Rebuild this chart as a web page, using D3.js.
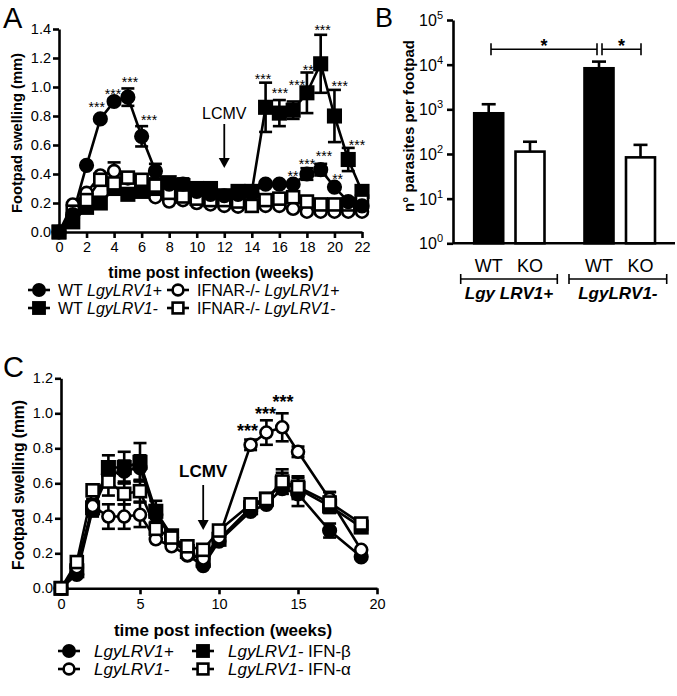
<!DOCTYPE html>
<html><head><meta charset="utf-8">
<script src="https://cdn.jsdelivr.net/npm/d3@7"></script>
<style>body{margin:0;background:#fff} svg{font-family:"Liberation Sans",Arial,Helvetica,sans-serif}</style>
</head><body><svg id="c" width="677" height="696"></svg>
<script>
// ---------- Panel A data ----------
const A_weeks  = [0,1,2,3,4,5,6,7,8,9,10,11,12,13,14,15,16,17,18,19,20,21,22];
const A_wtPos  = [0,0.12,0.46,0.78,0.90,0.93,0.66,0.42,0.33,0.33,0.28,0.26,0.25,0.26,0.27,0.33,0.33,0.33,0.40,0.43,0.31,0.21,0.18];
const A_wtPosE = [0,0,0,0,0.02,0.06,0.07,0.05,0,0.04,0,0,0,0,0,0,0,0,0.04,0.04,0,0,0];
const A_wtNeg  = [0,0.07,0.17,0.20,0.30,0.26,0.28,0.30,0.34,0.32,0.30,0.30,0.25,0.28,0.28,0.86,0.82,0.84,0.96,1.16,0.80,0.50,0.28];
const A_wtNegE = [0,0,0,0,0,0,0,0,0,0,0,0,0,0,0,0.17,0.09,0.06,0.14,0.20,0.18,0.08,0.04];
const A_koPos  = [0,0.19,0.27,0.39,0.42,0.37,0.31,0.24,0.21,0.22,0.20,0.19,0.18,0.175,0.19,0.18,0.18,0.16,0.14,0.14,0.14,0.14,0.14];
const A_koPosE = [0,0,0,0,0.06,0,0,0,0,0,0,0,0,0,0,0,0,0,0,0,0,0,0];
const A_koNeg  = [0,0.14,0.22,0.36,0.335,0.375,0.36,0.32,0.27,0.245,0.23,0.22,0.22,0.21,0.18,0.22,0.23,0.24,0.21,0.19,0.19,0.19,0.21];
const A_koNegE = [0,0,0,0,0,0,0,0,0,0,0,0,0,0,0,0,0,0,0,0,0,0,0];
const A_yTicks = [0,0.2,0.4,0.6,0.8,1.0,1.2,1.4];
const A_xTicks = [0,2,4,6,8,10,12,14,16,18,20,22];
const A_stars  = [
  {w:2.74,v:0.883,t:"***"},{w:3.92,v:0.974,t:"***"},{w:5.155,v:1.053,t:"***"},{w:6.54,v:0.795,t:"***"},
  {w:14.81,v:1.076,t:"***"},{w:16.05,v:0.979,t:"***"},{w:17.28,v:1.037,t:"***"},{w:18.30,v:1.14,t:"***"},
  {w:19.14,v:1.412,t:"***"},{w:20.38,v:1.028,t:"***"},{w:21.64,v:0.623,t:"***"},
  {w:16.99,v:0.405,t:"**"},{w:18.01,v:0.492,t:"***"},{w:19.24,v:0.547,t:"***"},{w:20.23,v:0.386,t:"**"}
];
const A_lcmvWeek = 12;

// ---------- Panel B data ----------
const B_groups = ["WT","KO","WT","KO"];
const B_values = [815,113,8300,84];
const B_errTop = [1300,188,11700,160];
const B_yTicks = [1,10,100,1000,10000,100000];
const B_strains = ["Lgy LRV1+","LgyLRV1-"];

// ---------- Panel C data ----------
const C_weeks  = [0,1,2,3,4,5,6,7,8,9,10,12,13,14,15,17,19];
const C_pos    = [0,0.08,0.45,0.65,0.67,0.69,0.42,0.29,0.19,0.13,0.27,0.44,0.48,0.57,0.54,0.33,0.18];
const C_posE   = [0,0,0.04,0.06,0.06,0.07,0.05,0,0,0,0,0,0,0,0.07,0.04,0];
const C_beta   = [0,0.10,0.46,0.69,0.69,0.72,0.44,0.30,0.21,0.16,0.28,0.46,0.51,0.60,0.57,0.47,0.35];
const C_betaE  = [0,0,0.04,0.07,0.09,0.11,0.06,0,0,0,0,0,0.03,0.06,0.06,0.03,0];
const C_neg    = [0,0.12,0.47,0.41,0.41,0.42,0.28,0.24,0.19,0.17,0.29,0.82,0.89,0.92,0.78,0.51,0.22];
const C_negE   = [0,0,0.04,0.07,0.07,0.07,0,0,0,0,0,0.03,0.07,0.08,0.03,0.04,0];
const C_alpha  = [0,0.15,0.56,0.61,0.54,0.555,0.34,0.29,0.24,0.22,0.33,0.48,0.51,0.61,0.58,0.49,0.37];
const C_alphaE = [0,0,0.03,0.08,0.06,0.06,0,0,0,0,0,0.02,0.03,0.07,0.06,0.06,0];
const C_yTicks = [0,0.2,0.4,0.6,0.8,1.0,1.2];
const C_xTicks = [0,5,10,15,20];
const C_stars  = [{w:11.8,v:0.923,t:"***"},{w:12.94,v:1.019,t:"***"},{w:14.05,v:1.086,t:"***"}];
const C_lcmvWeek = 9;

// ---------- helpers ----------
const svg = d3.select("#c");
const SW = 2.6;

function styleAxis(g, fs){
  g.selectAll(".domain").attr("stroke","#000").attr("stroke-width",SW);
  g.selectAll(".tick line").attr("stroke","#000").attr("stroke-width",SW);
  g.selectAll(".tick text").attr("font-size",fs).attr("fill","#000").attr("font-family","'Liberation Sans',Arial,sans-serif");
}
function marker(g, shape, filled, x, y, k){
  k = k || 1;
  if(shape==="circle"){
    g.append("circle").attr("cx",x).attr("cy",y).attr("r",(filled?6.3:6)*k)
      .attr("fill",filled?"#000":"#fff").attr("stroke","#000").attr("stroke-width",SW);
  } else {
    const s = (filled?12.5:12)*k;
    g.append("rect").attr("x",x-s/2).attr("y",y-s/2).attr("width",s).attr("height",s)
      .attr("fill",filled?"#000":"#fff").attr("stroke","#000").attr("stroke-width",SW);
  }
}
function series(g, x, y, weeks, vals, errs, shape, filled, layer){
  const pts = weeks.map((w,i)=>({w, v:vals[i], e:errs[i]}));
  layer.lines.append("path").datum(pts)
    .attr("d", d3.line().x(d=>x(d.w)).y(d=>y(d.v)))
    .attr("fill","none").attr("stroke","#000").attr("stroke-width",SW).attr("stroke-linejoin","round");
  pts.forEach(d=>{
    if(d.e>0){
      const cx=x(d.w), y1=y(d.v+d.e), y0=y(Math.max(0,d.v-d.e));
      layer.errs.append("line").attr("x1",cx).attr("x2",cx).attr("y1",y1).attr("y2",y0).attr("stroke","#000").attr("stroke-width",SW);
      [y1,y0].forEach(yy=>layer.errs.append("line").attr("x1",cx-6.5).attr("x2",cx+6.5).attr("y1",yy).attr("y2",yy).attr("stroke","#000").attr("stroke-width",SW));
    }
  });
  const mg = layer.marks.append("g");
  pts.forEach(d=>marker(mg, shape, filled, x(d.w), y(d.v)));
}
function legendItem(g, x, y, shape, filled, parts, off, fs){
  g.append("line").attr("x1",x-11).attr("x2",x+11).attr("y1",y).attr("y2",y).attr("stroke","#000").attr("stroke-width",SW);
  marker(g, shape, filled, x, y, 0.9);
  const t = g.append("text").attr("x",x+off).attr("y",y+5.5).attr("font-size",fs);
  parts.forEach(p=>t.append("tspan").attr("font-style",p.i?"italic":"normal").text(p.s));
}
function arrow(g, x, yTop, yBot){
  g.append("line").attr("x1",x).attr("x2",x).attr("y1",yTop).attr("y2",yBot-8).attr("stroke","#000").attr("stroke-width",1.8);
  g.append("path").attr("d",`M${x-5.5},${yBot-10} L${x+5.5},${yBot-10} L${x},${yBot} Z`).attr("fill","#000");
}

// ---------- Panel A ----------
{
  const g = svg.append("g");
  const x = d3.scaleLinear().domain([0,22]).range([59,362]);
  const y = d3.scaleLinear().domain([0,1.4]).range([232,29]);
  const xa = g.append("g").attr("transform","translate(0,232)")
    .call(d3.axisBottom(x).tickValues(A_xTicks).tickSize(6).tickPadding(4).tickSizeOuter(0));
  styleAxis(xa,14.5);
  const ya = g.append("g").attr("transform","translate(59,0)")
    .call(d3.axisLeft(y).tickValues(A_yTicks).tickFormat(d3.format(".1f")).tickSize(6).tickPadding(2).tickSizeOuter(0));
  styleAxis(ya,14.5);
  const layer = {lines:g.append("g"), errs:g.append("g"), marks:g.append("g")};
  series(g,x,y,A_weeks,A_koPos,A_koPosE,"circle",false,layer);
  series(g,x,y,A_weeks,A_wtNeg,A_wtNegE,"square",true,layer);
  series(g,x,y,A_weeks,A_koNeg,A_koNegE,"square",false,layer);
  series(g,x,y,A_weeks,A_wtPos,A_wtPosE,"circle",true,layer);
  A_stars.forEach(s=>g.append("text").attr("x",x(s.w)).attr("y",y(s.v)+8).attr("text-anchor","middle").attr("font-size",14).text(s.t));
  g.append("text").attr("x",x(A_lcmvWeek)).attr("y",119).attr("text-anchor","middle").attr("font-size",16).text("LCMV");
  arrow(g, x(A_lcmvWeek), 124, 168);
  g.append("text").attr("transform","translate(22,133) rotate(-90)").attr("text-anchor","middle").attr("font-size",14.7).attr("font-weight","bold").text("Footpad swelling (mm)");
  g.append("text").attr("x",211).attr("y",278).attr("text-anchor","middle").attr("font-size",16).attr("font-weight","bold").text("time post infection (weeks)");
  g.append("text").attr("x",3).attr("y",28).attr("font-size",29).text("A");
  const lg = g.append("g");
  legendItem(lg,39,290,"circle",true,[{s:"WT "},{s:"LgyLRV1+",i:true}],19,16);
  legendItem(lg,39,308,"square",true,[{s:"WT "},{s:"LgyLRV1-",i:true}],19,16);
  legendItem(lg,178,290,"circle",false,[{s:"IFNAR-/- "},{s:"LgyLRV1+",i:true}],19,16);
  legendItem(lg,178,308,"square",false,[{s:"IFNAR-/- "},{s:"LgyLRV1-",i:true}],19,16);
}

// ---------- Panel B ----------
{
  const g = svg.append("g");
  const y = d3.scaleLog().domain([1,1e5]).range([243.3,20]);
  const centers = [488.7,530,599,640.5];
  const bw = 29;
  B_values.forEach((v,i)=>{
    const cx = centers[i];
    g.append("line").attr("x1",cx).attr("x2",cx).attr("y1",y(B_errTop[i])).attr("y2",y(v)).attr("stroke","#000").attr("stroke-width",SW);
    g.append("line").attr("x1",cx-7).attr("x2",cx+7).attr("y1",y(B_errTop[i])).attr("y2",y(B_errTop[i])).attr("stroke","#000").attr("stroke-width",SW);
    g.append("rect").attr("x",cx-bw/2).attr("y",y(v)).attr("width",bw).attr("height",y(1)-y(v))
      .attr("fill",B_groups[i]==="WT"?"#000":"#fff").attr("stroke","#000").attr("stroke-width",SW);
    g.append("text").attr("x",cx).attr("y",272).attr("text-anchor","middle").attr("font-size",18).text(B_groups[i]);
  });
  const ya = g.append("g").attr("transform","translate(453,0)")
    .call(d3.axisLeft(y).tickValues(B_yTicks).tickFormat("").tickSize(6).tickSizeOuter(0));
  styleAxis(ya,14);
  B_yTicks.forEach(t=>{
    const e = Math.round(Math.log10(t));
    const tx = g.append("text").attr("x",443).attr("y",y(t)+6).attr("text-anchor","end").attr("font-size",16);
    tx.append("tspan").text("10");
    tx.append("tspan").attr("dy",-7).attr("font-size",11).text(e);
  });
  g.append("line").attr("x1",453).attr("x2",675).attr("y1",y(1)).attr("y2",y(1)).attr("stroke","#000").attr("stroke-width",SW);
  const sy = 49.3;
  [[491,597],[602,641]].forEach(([a,b])=>{
    g.append("line").attr("x1",a).attr("x2",b).attr("y1",sy).attr("y2",sy).attr("stroke","#000").attr("stroke-width",1.6);
    [a,b].forEach(xx=>g.append("line").attr("x1",xx).attr("x2",xx).attr("y1",sy-6).attr("y2",sy+6).attr("stroke","#000").attr("stroke-width",1.6));
    g.append("text").attr("x",(a+b)/2).attr("y",sy+3).attr("text-anchor","middle").attr("font-size",18).attr("font-weight","bold").text("*");
  });
  [[460.7,557.3],[569,666.7]].forEach(([a,b],i)=>{
    g.append("line").attr("x1",a).attr("x2",b).attr("y1",279).attr("y2",279).attr("stroke","#000").attr("stroke-width",1.6);
    [a,b].forEach(xx=>g.append("line").attr("x1",xx).attr("x2",xx).attr("y1",274).attr("y2",284).attr("stroke","#000").attr("stroke-width",1.6));
    g.append("text").attr("x",(a+b)/2).attr("y",299).attr("text-anchor","middle").attr("font-size",17).attr("font-weight","bold").attr("font-style","italic").text(B_strains[i]);
  });
  g.append("text").attr("transform","translate(414,126) rotate(-90)").attr("text-anchor","middle").attr("font-size",15).attr("font-weight","bold").text("n° parasites per footpad");
  g.append("text").attr("x",375).attr("y",27).attr("font-size",27).text("B");
}

// ---------- Panel C ----------
{
  const g = svg.append("g");
  const x = d3.scaleLinear().domain([0,20]).range([61,377]);
  const y = d3.scaleLinear().domain([0,1.2]).range([588.3,378.3]);
  const xa = g.append("g").attr("transform","translate(0,588.3)")
    .call(d3.axisBottom(x).tickValues(C_xTicks).tickSize(6).tickPadding(4).tickSizeOuter(0));
  styleAxis(xa,14.5);
  const ya = g.append("g").attr("transform","translate(61,0)")
    .call(d3.axisLeft(y).tickValues(C_yTicks).tickFormat(d3.format(".1f")).tickSize(6).tickPadding(2).tickSizeOuter(0));
  styleAxis(ya,14.5);
  const layer = {lines:g.append("g"), errs:g.append("g"), marks:g.append("g")};
  series(g,x,y,C_weeks,C_pos,C_posE,"circle",true,layer);
  series(g,x,y,C_weeks,C_beta,C_betaE,"square",true,layer);
  series(g,x,y,C_weeks,C_neg,C_negE,"circle",false,layer);
  series(g,x,y,C_weeks,C_alpha,C_alphaE,"square",false,layer);
  C_stars.forEach(s=>g.append("text").attr("x",x(s.w)).attr("y",y(s.v)+10).attr("text-anchor","middle").attr("font-size",18).attr("font-weight","bold").text(s.t));
  g.append("text").attr("x",x(C_lcmvWeek)).attr("y",477).attr("text-anchor","middle").attr("font-size",17).attr("font-weight","bold").text("LCMV");
  arrow(g, x(C_lcmvWeek), 485, 530);
  g.append("text").attr("transform","translate(24,485) rotate(-90)").attr("text-anchor","middle").attr("font-size",15.6).attr("font-weight","bold").text("Footpad swelling (mm)");
  g.append("text").attr("x",223).attr("y",636).attr("text-anchor","middle").attr("font-size",17).attr("font-weight","bold").text("time post infection (weeks)");
  g.append("text").attr("x",3).attr("y",377).attr("font-size",29).text("C");
  const lg = g.append("g");
  legendItem(lg,69,651,"circle",true,[{s:"LgyLRV1+",i:true}],25,17);
  legendItem(lg,69,669,"circle",false,[{s:"LgyLRV1-",i:true}],25,17);
  legendItem(lg,203,651,"square",true,[{s:"LgyLRV1-",i:true},{s:" IFN-β"}],25,17);
  legendItem(lg,203,669,"square",false,[{s:"LgyLRV1-",i:true},{s:" IFN-α"}],25,17);
}
</script></body></html>
